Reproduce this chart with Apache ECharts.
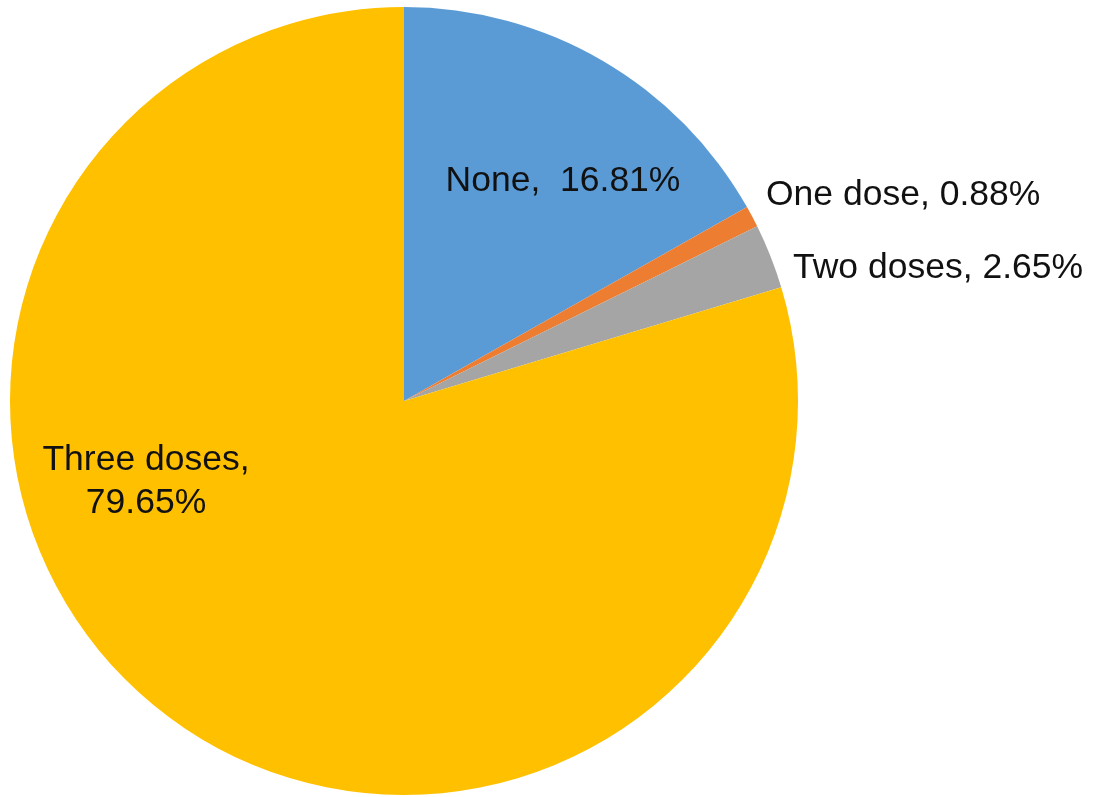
<!DOCTYPE html>
<html>
<head>
<meta charset="utf-8">
<script src="https://cdn.jsdelivr.net/npm/echarts@6/dist/echarts.min.js"></script>
<style>
html,body{margin:0;padding:0;background:#fff;}
#chart{width:1098px;height:797px;}
</style>
</head>
<body>
<div id="chart"></div>
<script>
const categories = ['None', 'One dose', 'Two doses', 'Three doses'];
const values = [16.81, 0.88, 2.65, 79.65];
const colors = ['#5B9BD5', '#ED7D31', '#A5A5A5', '#FFC000'];
const labelTexts = ['None,  16.81%', 'One dose, 0.88%', 'Two doses, 2.65%', 'Three doses,\n79.65%'];

// label anchor positions (layout only)
const labelPos = [
  {x: 563, y: 181, align: 'center'},
  {x: 766, y: 195, align: 'left'},
  {x: 793, y: 268, align: 'left'},
  {x: 146, y: 482, align: 'center'}
];

const chart = echarts.init(document.getElementById('chart'));
chart.setOption({
  animation: false,
  series: [{
    type: 'pie',
    center: [404, 401],
    radius: [0, 394],
    startAngle: 90,
    clockwise: true,
    avoidLabelOverlap: false,
    itemStyle: {borderWidth: 0},
    label: {
      show: true,
      position: 'outside',
      formatter: p => labelTexts[p.dataIndex],
      fontFamily: 'Liberation Sans',
      fontSize: 35.5,
      lineHeight: 43,
      color: '#111'
    },
    labelLine: {show: false},
    labelLayout: p => ({
      x: labelPos[p.dataIndex].x,
      y: labelPos[p.dataIndex].y,
      align: labelPos[p.dataIndex].align,
      verticalAlign: 'middle'
    }),
    emphasis: {disabled: true},
    data: categories.map((c, i) => ({
      name: c,
      value: values[i],
      itemStyle: {color: colors[i]}
    }))
  }]
});
</script>
</body>
</html>
